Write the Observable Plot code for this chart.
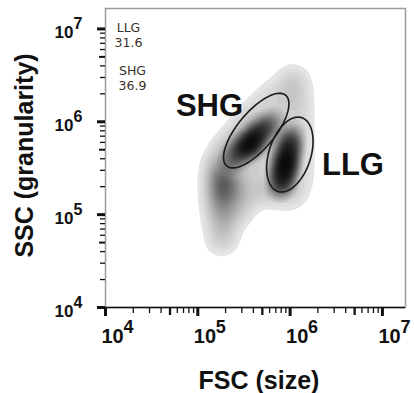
<!DOCTYPE html>
<html><head><meta charset="utf-8">
<script src="https://cdn.jsdelivr.net/npm/d3@7"></script>
<script src="https://cdn.jsdelivr.net/npm/@observablehq/plot@0.6"></script>
<style>body{margin:0;background:#fff;} svg{display:block}</style>
</head><body><div id="chart"></div>
<script>
// ---- axis ticks (log decades) ----
const decades = [1e4, 1e5, 1e6, 1e7];
const decadeExponents = ["4", "5", "6", "7"];
const minorMultipliers = [2, 3, 4, 6, 7, 8, 9];
const midMultipliers = [5];
const xTitle = "FSC (size)";
const yTitle = "SSC (granularity)";

// ---- broad population envelope (log10 FSC, log10 SSC, relative weight) ----
const envLogFSC = [6.037, 6.091, 5.950, 6.069, 5.809, 5.961, 6.102, 5.701, 5.852, 5.571, 6.091, 5.484, 5.397, 5.701, 6.102, 6.102, 6.102, 6.091, 6.047, 5.950, 5.787, 5.625, 5.701, 5.744, 5.571, 5.787,
                   5.300, 5.235, 5.213, 5.311, 5.213, 5.322, 5.213, 5.322, 5.419, 5.462, 5.495, 5.224, 5.322, 5.246, 5.300, 5.235, 5.419];
const envLogSSC = [6.477, 6.401, 6.401, 6.272, 6.315, 6.229, 6.143, 6.186, 6.100, 6.057, 5.992, 5.928, 5.798, 5.949, 5.841, 5.691, 5.529, 5.368, 5.238, 5.206, 5.228, 5.238, 5.368, 5.583, 5.605, 5.798,
                   5.691, 5.551, 5.411, 5.411, 5.260, 5.260, 5.109, 5.109, 5.260, 5.432, 5.120, 4.958, 4.937, 4.808, 4.743, 4.689, 5.002];
const envWeight = [0.5, 0.5, 0.5, 0.6, 0.5, 0.6, 0.6, 0.6, 0.7, 0.8, 0.6, 0.9, 1.1, 0.8, 0.6, 0.6, 0.6, 0.6, 0.6, 0.6, 0.7, 0.8, 0.8, 0.8, 0.9, 0.8,
                   1.3, 1.5, 2.0, 2.0, 2.0, 1.8, 1.6, 1.4, 1.3, 1.2, 0.8, 1.0, 0.9, 0.7, 0.5, 0.4, 0.6];

// ---- dense cores along the SHG and LLG ridges ----
const coreLogFSC = [5.376, 5.462, 5.538, 5.603, 5.679, 5.755, 5.831, 6.015, 5.993, 5.972, 5.950, 5.928, 5.907, 5.885];
const coreLogSSC = [5.583, 5.669, 5.745, 5.809, 5.885, 5.960, 6.035, 5.885, 5.777, 5.669, 5.561, 5.454, 5.357, 5.260];
const coreWeight = [2, 4, 6, 6, 4, 2.5, 1, 1.5, 4, 6, 7, 7, 4, 1.5];

// ---- gates ----
const gateNames = ["SHG", "LLG"];
const gatePercent = ["36.9", "31.6"];
const gateLogFSC = [5.633, 5.997];
const gateLogSSC = [5.905, 5.647];
const gateSemiMajor = [0.497, 0.418];
const gateSemiMinor = [0.20, 0.227];
const gateAngleDeg = [50, 72];
const gateLabelLogFSC = [5.127, 6.681];
const gateLabelLogSSC = [6.165, 5.529];

// ---- build tables ----
const env = envLogFSC.map((v, i) => ({fsc: 10 ** v, ssc: 10 ** envLogSSC[i], w: envWeight[i]}));
const core = coreLogFSC.map((v, i) => ({fsc: 10 ** v, ssc: 10 ** coreLogSSC[i], w: coreWeight[i]}));
const minorTicks = decades.slice(0, 3).flatMap(d => minorMultipliers.map(m => m * d));
const midTicks = decades.slice(0, 3).flatMap(d => midMultipliers.map(m => m * d));
const gateOutline = gateNames.flatMap((g, i) => {
  const th = gateAngleDeg[i] * Math.PI / 180, a = gateSemiMajor[i], b = gateSemiMinor[i];
  return d3.range(0, 73).map(k => {
    const t = k / 72 * 2 * Math.PI;
    const lx = gateLogFSC[i] + a * Math.cos(th) * Math.cos(t) - b * Math.sin(th) * Math.sin(t);
    const ly = gateLogSSC[i] + a * Math.sin(th) * Math.cos(t) + b * Math.cos(th) * Math.sin(t);
    return {gate: g, fsc: 10 ** lx, ssc: 10 ** ly};
  });
});
const gateLabels = gateNames.map((g, i) => ({gate: g, fsc: 10 ** gateLabelLogFSC[i], ssc: 10 ** gateLabelLogSSC[i]}));
const statIdx = [gateNames.indexOf("LLG"), gateNames.indexOf("SHG")];

const ink = "#111";
const chart = Plot.plot({
  width: 414, height: 393,
  marginLeft: 105, marginRight: 9, marginTop: 8, marginBottom: 86,
  style: {fontFamily: "'Liberation Sans', Arial, sans-serif", background: "#fff"},
  x: {type: "log", domain: [1e4, 10 ** 7.25], label: null},
  y: {type: "log", domain: [1e4, 10 ** 7.22], label: null},
  color: {type: "linear", range: ["#eaeaea", "#5c5c5c"]},
  marks: [
    Plot.density(env, {x: "fsc", y: "ssc", weight: "w", bandwidth: 7, thresholds: 24, fill: "density", stroke: "none"}),
    Plot.density(core, {x: "fsc", y: "ssc", weight: "w", bandwidth: 5.5, thresholds: 40, fill: "black", fillOpacity: 0.065, stroke: "none"}),
    Plot.line(gateOutline, {x: "fsc", y: "ssc", z: "gate", stroke: "#1a1a1a", strokeWidth: 1.6}),
    Plot.frame({stroke: "#9a9a9a", strokeWidth: 1.5}),
    Plot.ruleY([decades[0]], {stroke: ink, strokeWidth: 1.5}),
    Plot.axisX(decades, {anchor: "bottom", tickSize: 9, strokeWidth: 3, stroke: ink, fill: "none"}),
    Plot.axisX(midTicks, {anchor: "bottom", tickSize: 8, strokeWidth: 2.3, stroke: ink, fill: "none"}),
    Plot.axisX(minorTicks, {anchor: "bottom", tickSize: 6, strokeWidth: 1.3, stroke: ink, fill: "none"}),
    Plot.axisY(decades, {anchor: "left", tickSize: 8, strokeWidth: 3, stroke: ink, fill: "none"}),
    Plot.axisY(midTicks, {anchor: "left", tickSize: 6, strokeWidth: 2, stroke: ink, fill: "none"}),
    Plot.axisY(minorTicks, {anchor: "left", tickSize: 5, strokeWidth: 1.3, stroke: ink, fill: "none"}),
    // x tick labels 10^n
    Plot.text(decades, {x: d => d, frameAnchor: "bottom", text: () => "10", textAnchor: "start", lineAnchor: "bottom", dx: -4, dy: 35, fontSize: 20, fontWeight: "bold", fill: ink}),
    Plot.text(decades, {x: d => d, frameAnchor: "bottom", text: (d, i) => decadeExponents[i], textAnchor: "start", lineAnchor: "bottom", dx: 18, dy: 25, fontSize: 18, fontWeight: "bold", fill: ink}),
    // y tick labels 10^n
    Plot.text(decades, {y: d => d, frameAnchor: "left", text: () => "10", textAnchor: "end", lineAnchor: "middle", dx: -32, dy: 4, fontSize: 17, fontWeight: "bold", fill: ink}),
    Plot.text(decades, {y: d => d, frameAnchor: "left", text: (d, i) => decadeExponents[i], textAnchor: "start", lineAnchor: "middle", dx: -32, dy: -5, fontSize: 16, fontWeight: "bold", fill: ink}),
    // axis titles
    Plot.text([xTitle], {frameAnchor: "bottom", text: d => d, textAnchor: "middle", lineAnchor: "bottom", dx: 3.5, dy: 81, fontSize: 25, fontWeight: "bold", fill: ink}),
    Plot.text([yTitle], {frameAnchor: "left", text: d => d, textAnchor: "middle", lineAnchor: "middle", rotate: -90, dx: -81, dy: -2.5, fontSize: 25, fontWeight: "bold", fill: ink}),
    // gate labels
    Plot.text(gateLabels, {x: "fsc", y: "ssc", text: "gate", fontSize: 31, fontWeight: "bold", fill: ink}),
    // statistics in the top-left corner
    Plot.text([statIdx[0]], {frameAnchor: "top-left", text: i => `${gateNames[i]}\n${gatePercent[i]}`, textAnchor: "middle", lineAnchor: "top", lineHeight: 1.2, dx: 23, dy: 13, fontSize: 12.5, fontFamily: "'DejaVu Sans', sans-serif", fill: "#3b3029"}),
    Plot.text([statIdx[1]], {frameAnchor: "top-left", text: i => `${gateNames[i]}\n${gatePercent[i]}`, textAnchor: "middle", lineAnchor: "top", lineHeight: 1.2, dx: 27, dy: 56, fontSize: 12.5, fontFamily: "'DejaVu Sans', sans-serif", fill: "#3b3029"})
  ]
});
document.getElementById("chart").appendChild(chart);
</script>
</body></html>
